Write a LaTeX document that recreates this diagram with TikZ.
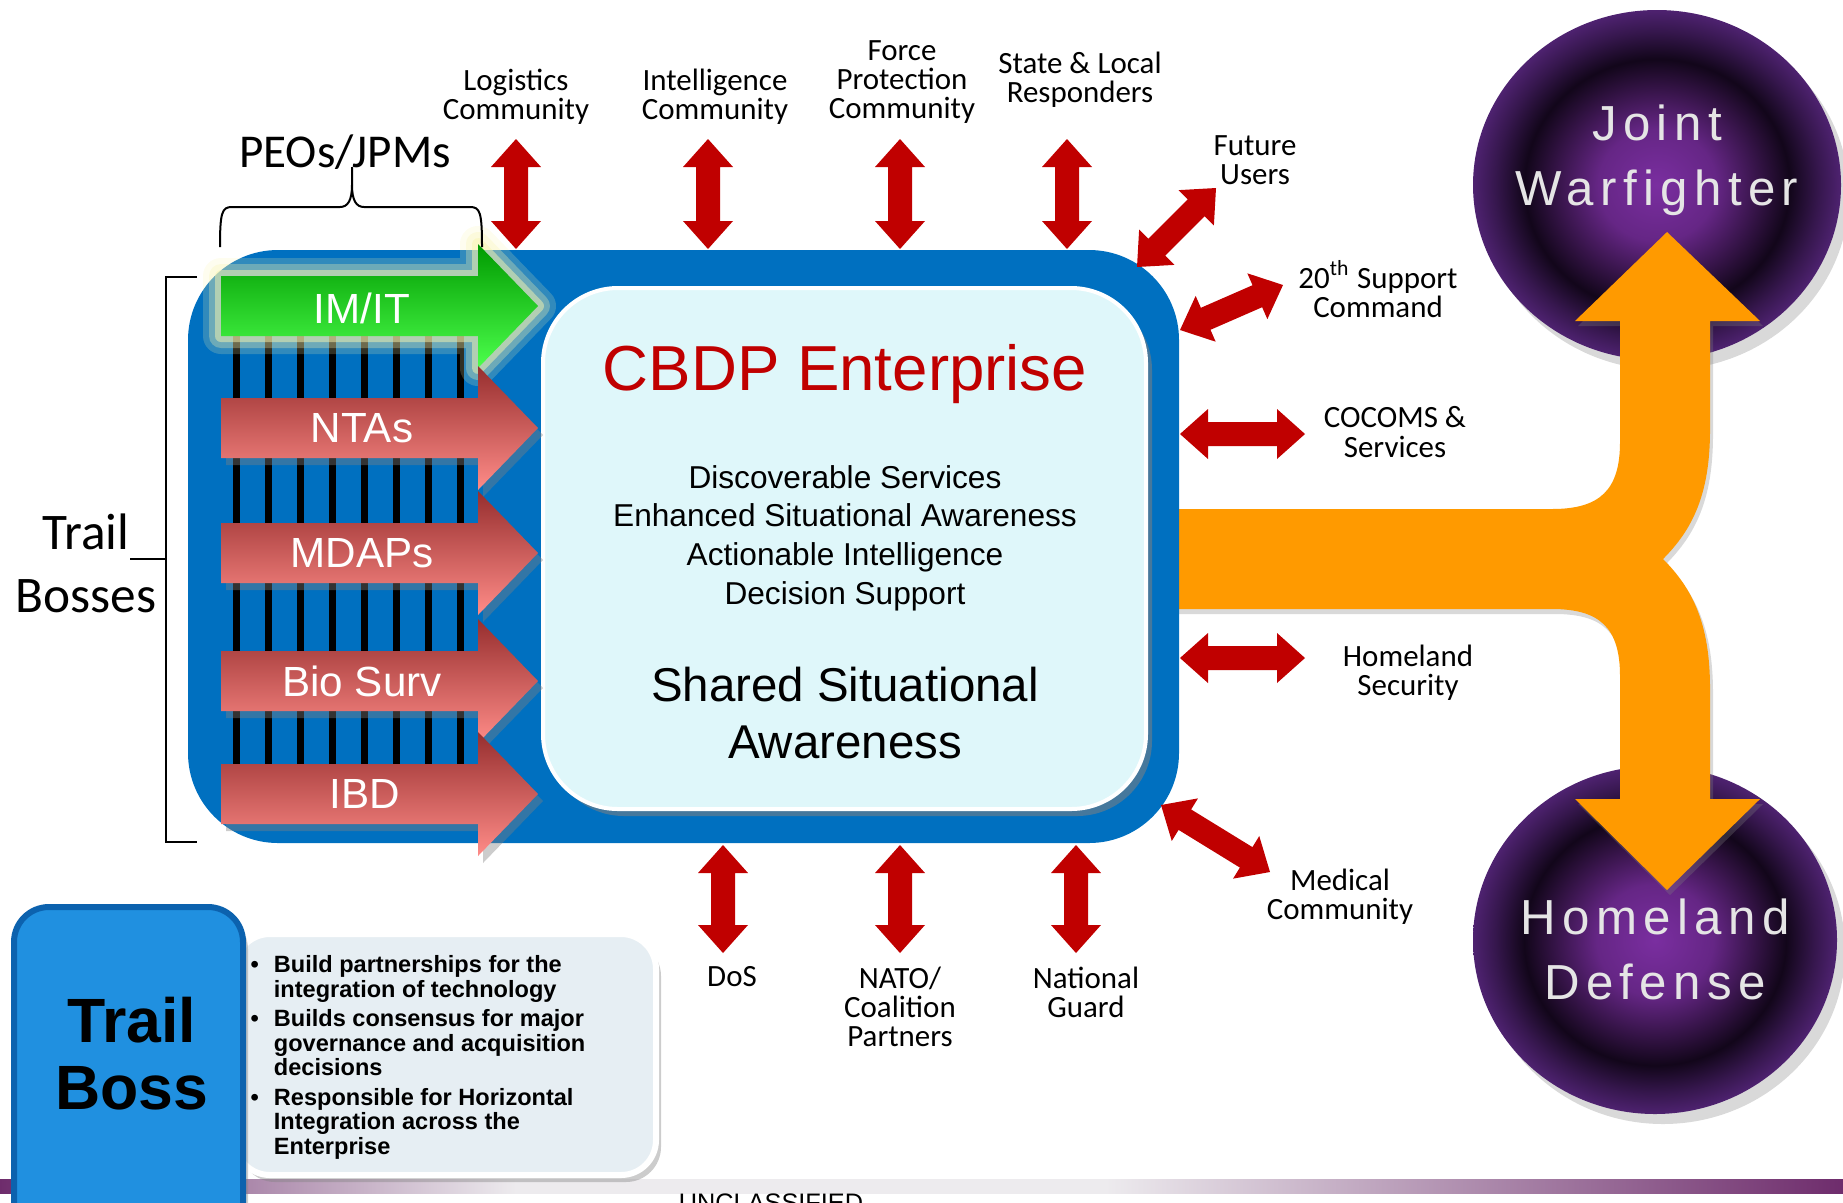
\documentclass[tikz,border=0pt]{standalone}
\usepackage{fontspec}
\setmainfont{Carlito}
\newfontfamily\arialfont{Liberation Sans}
\newfontfamily\spacedfont[LetterSpace=13]{Liberation Sans}
\usetikzlibrary{calc,shadows}

\definecolor{boxblue}{HTML}{0070C0}
\definecolor{innercyan}{HTML}{DFF7FA}
\definecolor{arrowred}{HTML}{C00000}
\definecolor{flowamber}{HTML}{FF9A00}
\definecolor{redtop}{HTML}{962E2E}
\definecolor{redbot}{HTML}{FF8C88}
\definecolor{greentop}{HTML}{009A00}
\definecolor{greenbot}{HTML}{4CFF4C}
\definecolor{glowcol}{HTML}{F8F4B0}
\definecolor{ballcore}{HTML}{7A2EA0}
\definecolor{balldark}{HTML}{12061A}
\definecolor{ballrim}{HTML}{4E2270}
\definecolor{bosscore}{HTML}{2090E0}
\definecolor{bossedge}{HTML}{0C62AE}
\definecolor{notefill}{HTML}{E6EEF3}
\definecolor{barpurple}{HTML}{6E2C6C}
\definecolor{bargray}{HTML}{EDEBEE}

\pgfdeclareradialshading{purpleball}{\pgfpoint{0bp}{0bp}}{color(0bp)=(ballcore); color(8bp)=(ballcore!80!balldark); color(18bp)=(balldark); color(22bp)=(ballrim!60!balldark); color(25bp)=(ballrim); color(50bp)=(ballrim)}
\pgfdeclarehorizontalshading{footerbar}{100bp}{color(0bp)=(barpurple); color(25bp)=(barpurple); color(39bp)=(bargray); color(55bp)=(bargray); color(75bp)=(barpurple); color(100bp)=(barpurple)}

% double headed block arrow between two named points
\def\dblarrow(#1)(#2){%
	\path ($(#1)!2.8mm!(#2)$) coordinate (tipA) ($(#2)!2.8mm!(#1)$) coordinate (tipB);
	\fill[arrowred] (#1) -- ($(tipA)!2.5mm!90:(#2)$) -- ($(tipA)!1.2mm!90:(#2)$) -- ($(tipB)!1.2mm!-90:(#1)$) -- ($(tipB)!2.5mm!-90:(#1)$) -- (#2) -- ($(tipB)!2.5mm!90:(#1)$) -- ($(tipB)!1.2mm!90:(#1)$) -- ($(tipA)!1.2mm!-90:(#2)$) -- ($(tipA)!2.5mm!-90:(#2)$) -- cycle;}
% right pointing block arrow at height #2
\def\blockarrow[#1](#2){\path[#1] (221,#2-30) -- (478,#2-30) -- (478,#2-62) -- (538,#2) -- (478,#2+62) -- (478,#2+30) -- (221,#2+30) -- cycle;}

\tikzset{
	lbl/.style={font=\fontsize{8.8}{8.3}\selectfont, align=center, inner sep=0pt},
	blocktxt/.style={font=\arialfont\fontsize{12}{13}\selectfont, text=white, inner sep=0pt},
	balltxt/.style={font=\spacedfont\fontsize{14}{18.5}\selectfont, text=black!10, align=center, inner sep=0pt},
	softshadow/.style={drop shadow={shadow xshift=0.5mm, shadow yshift=-0.7mm, opacity=0.4}},
	redblock/.style={top color=redtop, bottom color=redbot, softshadow},
	greenblock/.style={top color=greentop, bottom color=greenbot},
	glow/.style={draw=glowcol, line join=round, line width=#1},
}

\begin{document}
\begin{tikzpicture}[x=0.1mm, y=-0.1mm]
			%%%%% START %%%%%
			\useasboundingbox (0,0) rectangle (1843,1202);
			
			% footer
			\shade[shading=footerbar] (0,1179) rectangle (1843,1193);
			\node (classif) [anchor=north, font=\arialfont\fontsize{7.2}{8}\selectfont, inner sep=0pt] at (771,1193) {UNCLASSIFIED};
			
			% the two purple balls
			\shade[shading=purpleball, drop shadow={shadow xshift=0.8mm, shadow yshift=-1mm, opacity=0.3}] (1657,185) ellipse [x radius=184, y radius=175];
			\shade[shading=purpleball, drop shadow={shadow xshift=0.8mm, shadow yshift=-1mm, opacity=0.3}] (1655,940) ellipse [x radius=182, y radius=174];
			\node (joint) [balltxt] at (1657,160) {Joint\\Warfighter};
			\node (homedef) [balltxt] at (1655,949) {Homeland\\Defense};
			
			% orange flow, split up and down
			\fill[flowamber, drop shadow={shadow xshift=0.3mm, shadow yshift=-0.5mm, opacity=0.3}] (1170,509) -- (1552,509) .. controls (1600,509) and (1620,490) .. (1620,442) -- (1620,321) -- (1575,321) -- (1667,232) -- (1760,321) -- (1710,321) -- (1710,430) .. controls (1710,495) and (1692,530) .. (1663,559) .. controls (1692,588) and (1710,623) .. (1710,688) -- (1710,799) -- (1760,799) -- (1667,890) -- (1575,799) -- (1620,799) -- (1620,676) .. controls (1620,628) and (1600,609) .. (1552,609) -- (1170,609) -- cycle;
			
			% enterprise box
			\fill[boxblue, rounded corners=9mm] (188,250) rectangle (1179,843);
			\foreach \x in {236,268,...,460}
				\fill[black] (\x-3.5,330) rectangle (\x+3.5,775);
			\path[fill=innercyan, draw=white, line width=0.4mm, rounded corners=7.5mm, drop shadow={shadow xshift=0.6mm, shadow yshift=-0.7mm, opacity=0.55}] (543,288) rectangle (1146,809);
			
			\node (title) [font=\arialfont\fontsize{18.1}{20}\selectfont, text=arrowred, inner sep=0pt] at (845,374) {CBDP Enterprise};
			\node (services) [font=\arialfont\fontsize{9}{11}\selectfont, align=center, inner sep=0pt] at (845,538) {Discoverable Services\\Enhanced Situational Awareness\\Actionable Intelligence\\Decision Support};
			\node (shared) [font=\arialfont\fontsize{13.5}{16.4}\selectfont, align=center, inner sep=0pt] at (845,713) {Shared Situational\\Awareness};
			
			% programme arrows
			\blockarrow[glow=3.6mm, opacity=0.2](306)
			\blockarrow[glow=2.4mm, opacity=0.3](306)
			\blockarrow[glow=1.2mm, opacity=0.5](306)
			\blockarrow[greenblock](306)
			\blockarrow[redblock](428)
			\blockarrow[redblock](553)
			\blockarrow[redblock](681)
			\blockarrow[redblock](794)
			\node (imit) [blocktxt] at (362,308) {IM/IT};
			\node (ntas) [blocktxt] at (362,428) {NTAs};
			\node (mdaps) [blocktxt] at (362,553) {MDAPs};
			\node (biosurv) [blocktxt] at (362,681) {Bio Surv};
			\node (ibd) [blocktxt] at (365,794) {IBD};
			
			% brackets
			\node (peos) [font=\fontsize{13.4}{15}\selectfont, inner sep=0pt] at (345,152) {PEOs/JPMs};
			\draw[line width=0.2mm] (220,247) .. controls (220,212) and (222,207) .. (232,207) -- (340,207) .. controls (348,207) and (352,200) .. (352,185) -- (352,167);
			\draw[line width=0.2mm] (352,185) .. controls (352,200) and (356,207) .. (364,207) -- (470,207) .. controls (480,207) and (482,212) .. (482,247);
			\node (bosses) [font=\fontsize{14.6}{18}\selectfont, align=center, inner sep=0pt] at (86,563) {Trail\\Bosses};
			\draw[line width=0.2mm] (197,277) -- (166,277) -- (166,842) -- (197,842);
			\draw[line width=0.2mm] (166,559) -- (130,559);
			
			% partners around the box
			\node (logist) [lbl] at (516,97) {Logistics\\Community};
			\node (intel) [lbl] at (715,97) {Intelligence\\Community};
			\node (force) [lbl] at (902,82) {Force\\Protection\\Community};
			\node (stateloc) [lbl] at (1080,80) {State \& Local\\Responders};
			\node (future) [lbl] at (1255,160) {Future\\Users};
			\node (support) [lbl] at (1378,289) {20\textsuperscript{th} Support\\Command};
			\node (cocoms) [lbl] at (1395,432) {COCOMS \&\\Services};
			\node (homesec) [lbl] at (1408,673) {Homeland\\Security};
			\node (medical) [lbl] at (1340,897) {Medical\\Community};
			\node (dos) [lbl] at (732,977) {DoS};
			\node (nato) [lbl] at (900,1007) {NATO/\\Coalition\\Partners};
			\node (natguard) [lbl] at (1086,992) {National\\Guard};
			
			\coordinate (logA) at (516,139);  \coordinate (logB) at (516,249);
			\coordinate (intA) at (708,139);  \coordinate (intB) at (708,249);
			\coordinate (forA) at (900,139);  \coordinate (forB) at (900,249);
			\coordinate (staA) at (1067,139); \coordinate (staB) at (1067,249);
			\coordinate (futA) at (1216,188); \coordinate (futB) at (1137,267);
			\coordinate (supA) at (1283,285); \coordinate (supB) at (1180,330);
			\coordinate (cocA) at (1305,434); \coordinate (cocB) at (1180,434);
			\coordinate (hseA) at (1305,658); \coordinate (hseB) at (1180,658);
			\coordinate (medA) at (1270,872); \coordinate (medB) at (1161,805);
			\coordinate (dosA) at (723,953);  \coordinate (dosB) at (723,845);
			\coordinate (natA) at (900,953);  \coordinate (natB) at (900,845);
			\coordinate (ngdA) at (1076,953); \coordinate (ngdB) at (1076,845);
			
			\dblarrow(logA)(logB)
			\dblarrow(intA)(intB)
			\dblarrow(forA)(forB)
			\dblarrow(staA)(staB)
			\dblarrow(futA)(futB)
			\dblarrow(supA)(supB)
			\dblarrow(cocA)(cocB)
			\dblarrow(hseA)(hseB)
			\dblarrow(medA)(medB)
			\dblarrow(dosA)(dosB)
			\dblarrow(natA)(natB)
			\dblarrow(ngdA)(ngdB)
			
			% trail boss legend
			\path[fill=notefill, draw=white, line width=0.6mm, rounded corners=3.5mm, softshadow] (235,934) rectangle (656,1175);
			\path[fill=bosscore, draw=bossedge, line width=0.6mm, rounded corners=3.5mm, softshadow] (14,907) rectangle (243,1240);
			\node (boss) [font=\arialfont\bfseries\fontsize{17.8}{19}\selectfont, align=center, inner sep=0pt] at (132,1054) {Trail\\Boss};
			\node (duties) [anchor=north west, font=\arialfont\bfseries\fontsize{6.7}{7}\selectfont, inner sep=0pt] at (250,955) {%
				\begin{tabular}{@{}l@{\hspace{1.5mm}}l@{}}
					\textbullet & Build partnerships for the\\
					& integration of technology\\[1.3pt]
					\textbullet & Builds consensus for major\\
					& governance and acquisition\\
					& decisions\\[1.3pt]
					\textbullet & Responsible for Horizontal\\
					& Integration across the\\
					& Enterprise
				\end{tabular}};
			
			%%%%% END %%%%%
\end{tikzpicture}
\end{document}
